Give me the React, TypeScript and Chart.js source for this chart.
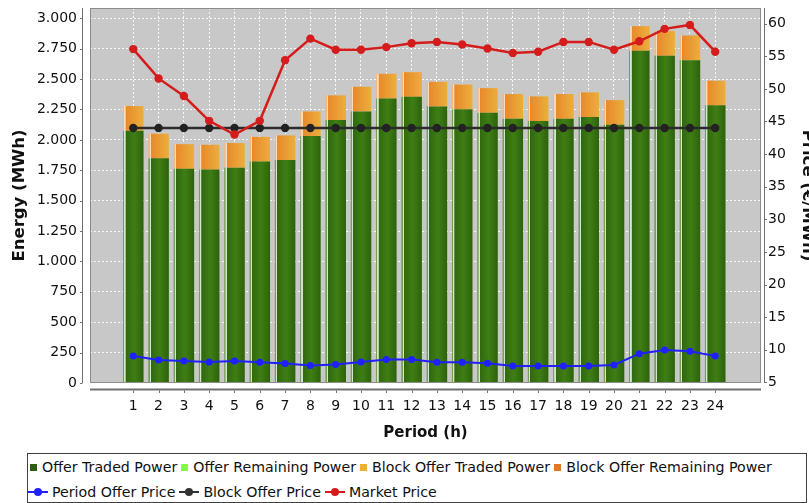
import React, { useEffect, useRef } from 'react';
import { Chart, registerables } from 'chart.js';

Chart.register(...registerables);

const periods = [1, 2, 3, 4, 5, 6, 7, 8, 9, 10, 11, 12, 13, 14, 15, 16, 17, 18, 19, 20, 21, 22, 23, 24];
const offerTradedPower = [2075, 1848, 1762, 1757, 1771, 1822, 1834, 2031, 2163, 2234, 2341, 2354, 2275, 2253, 2223, 2174, 2155, 2174, 2188, 2124, 2733, 2692, 2656, 2284];
const offerRemainingPower = [0, 0, 0, 0, 0, 0, 0, 0, 0, 0, 0, 0, 0, 0, 0, 0, 0, 0, 0, 0, 0, 0, 0, 0];
const blockOfferTradedPower = [203, 203, 203, 203, 203, 203, 203, 203, 203, 203, 203, 203, 203, 203, 203, 203, 203, 203, 203, 203, 203, 203, 203, 203];
const blockOfferRemainingPower = [0, 0, 0, 0, 0, 0, 0, 0, 0, 0, 0, 0, 0, 0, 0, 0, 0, 0, 0, 0, 0, 0, 0, 0];
const periodOfferPrice = [9.05, 8.43, 8.28, 8.13, 8.28, 8.08, 7.88, 7.57, 7.73, 8.13, 8.5, 8.5, 8.08, 8.08, 7.93, 7.5, 7.5, 7.5, 7.5, 7.66, 9.4, 9.97, 9.77, 9.05];
const blockOfferPrice = [44, 44, 44, 44, 44, 44, 44, 44, 44, 44, 44, 44, 44, 44, 44, 44, 44, 44, 44, 44, 44, 44, 44, 44];
const marketPrice = [56.1, 51.6, 48.9, 45.1, 43.0, 45.1, 54.4, 57.7, 56.0, 56.0, 56.4, 57.0, 57.2, 56.8, 56.2, 55.5, 55.7, 57.2, 57.2, 56.0, 57.3, 59.2, 59.8, 55.7];
const energyTicks = [0, 250, 500, 750, 1000, 1250, 1500, 1750, 2000, 2250, 2500, 2750, 3000];
const priceTicks = [5, 10, 15, 20, 25, 30, 35, 40, 45, 50, 55, 60];

const FONT = "'DejaVu Sans', sans-serif";
const BAR_FRACTION = 0.814;

const fmtEnergy = (v: number) => {
  const s = String(Math.round(v));
  return s.length > 3 ? s.slice(0, s.length - 3) + '.' + s.slice(-3) : s;
};

function barGradient(stops: [number, string][], fallback: string) {
  return (ctx: any) => {
    const chart = ctx.chart;
    const xs = chart.scales && chart.scales.x;
    if (!xs || ctx.type !== 'data' || !chart.chartArea) return fallback;
    const cx = xs.getPixelForValue(periods[ctx.dataIndex]);
    const step = Math.abs(xs.getPixelForValue(2) - xs.getPixelForValue(1));
    const half = (step * BAR_FRACTION) / 2;
    const g = chart.ctx.createLinearGradient(cx - half, 0, cx + half, 0);
    stops.forEach(([o, c]) => g.addColorStop(o, c));
    return g;
  };
}

const greenStops: [number, string][] = [
  [0, '#74a05a'], [0.06, '#74a05a'], [0.07, '#d6e6cc'], [0.12, '#d6e6cc'], [0.13, '#30680f'],
  [0.55, '#3f7e14'], [1, '#2d620c'],
];
const orangeStops: [number, string][] = [
  [0, '#f2b880'], [0.06, '#f2b880'], [0.07, '#fbdcb8'], [0.12, '#fbdcb8'], [0.13, '#e8892c'],
  [0.6, '#e99e34'], [1, '#ecae3c'],
];
const lightGreenStops: [number, string][] = [[0, '#80ff40'], [1, '#80ff40']];
const darkOrangeStops: [number, string][] = [[0, '#e0782a'], [1, '#e0782a']];

const zeroPadding = (s: any) => {
  s.paddingTop = 0;
  s.paddingBottom = 0;
  s.paddingLeft = 0;
  s.paddingRight = 0;
};

const decor = {
  id: 'decor',
  beforeDraw(chart: any) {
    const { ctx, chartArea: a } = chart;
    ctx.save();
    ctx.fillStyle = '#c8c8c8';
    ctx.fillRect(a.left, a.top, a.right - a.left, a.bottom - a.top);
    ctx.restore();
  },
  afterDraw(chart: any) {
    const { ctx, chartArea: a, scales } = chart;
    ctx.save();
    ctx.strokeStyle = '#8c8c8c';
    ctx.lineWidth = 1;
    ctx.strokeRect(a.left + 0.5, a.top + 0.5, a.right - a.left - 1, a.bottom - a.top - 1);

    ctx.strokeStyle = '#707070';
    const lx = a.left - 7.5;
    ctx.lineWidth = 1;
    ctx.beginPath();
    ctx.moveTo(lx, a.top);
    ctx.lineTo(lx, a.bottom);
    scales.y.ticks.forEach((t: any) => {
      const py = Math.round(scales.y.getPixelForValue(t.value)) + 0.5;
      ctx.moveTo(lx - 2.5, py);
      ctx.lineTo(lx, py);
    });
    ctx.stroke();
    const rx = a.right + 3.5;
    ctx.beginPath();
    ctx.moveTo(rx, a.top);
    ctx.lineTo(rx, a.bottom);
    scales.y1.ticks.forEach((t: any) => {
      const py = Math.round(scales.y1.getPixelForValue(t.value)) + 0.5;
      ctx.moveTo(rx, py);
      ctx.lineTo(rx + 2.5, py);
    });
    ctx.stroke();
    const by = a.bottom + 6.5;
    ctx.lineWidth = 2;
    ctx.beginPath();
    ctx.moveTo(a.left, by);
    ctx.lineTo(a.right, by);
    ctx.stroke();
    ctx.lineWidth = 1;
    ctx.beginPath();
    scales.x.ticks.forEach((t: any) => {
      const px = Math.round(scales.x.getPixelForValue(t.value)) + 0.5;
      ctx.moveTo(px, by + 1);
      ctx.lineTo(px, by + 3.5);
    });
    ctx.stroke();
    ctx.restore();
  },
};

const gridColor = 'rgba(255,255,255,0.85)';

function SquareItem({ color, label }: { color: string; label: string }) {
  return (
    <span style={{ display: 'inline-flex', alignItems: 'center', marginRight: 4 }}>
      <span style={{ display: 'inline-block', width: 7, height: 7, background: color, marginRight: 5 }} />
      {label}
    </span>
  );
}

function LineItem({ color, label }: { color: string; label: string }) {
  return (
    <span style={{ display: 'inline-flex', alignItems: 'center', marginRight: 4 }}>
      <span style={{ position: 'relative', display: 'inline-block', width: 20, height: 10, marginRight: 4 }}>
        <span style={{ position: 'absolute', left: 0, top: 4, width: 20, height: 2, background: color }} />
        <span style={{ position: 'absolute', left: 6, top: 1, width: 8, height: 8, borderRadius: '50%', background: color }} />
      </span>
      {label}
    </span>
  );
}

export default function App() {
  const canvasRef = useRef<HTMLCanvasElement | null>(null);

  useEffect(() => {
    if (!canvasRef.current) return;
    const chart = new Chart(canvasRef.current, {
      type: 'bar',
      data: {
        labels: periods,
        datasets: [
          {
            type: 'bar', label: 'Offer Traded Power', data: offerTradedPower, yAxisID: 'y', stack: 'energy',
            backgroundColor: barGradient(greenStops, '#35700f'), borderWidth: 0, order: 10,
            categoryPercentage: 1, barPercentage: BAR_FRACTION,
          },
          {
            type: 'bar', label: 'Offer Remaining Power', data: offerRemainingPower, yAxisID: 'y', stack: 'energy',
            backgroundColor: barGradient(lightGreenStops, '#80ff40'), borderWidth: 0, order: 11,
            categoryPercentage: 1, barPercentage: BAR_FRACTION,
          },
          {
            type: 'bar', label: 'Block Offer Traded Power', data: blockOfferTradedPower, yAxisID: 'y', stack: 'energy',
            backgroundColor: barGradient(orangeStops, '#e89a32'), borderWidth: 0, order: 12,
            categoryPercentage: 1, barPercentage: BAR_FRACTION,
          },
          {
            type: 'bar', label: 'Block Offer Remaining Power', data: blockOfferRemainingPower, yAxisID: 'y', stack: 'energy',
            backgroundColor: barGradient(darkOrangeStops, '#e0782a'), borderWidth: 0, order: 13,
            categoryPercentage: 1, barPercentage: BAR_FRACTION,
          },
          {
            type: 'line', label: 'Period Offer Price', data: periodOfferPrice, yAxisID: 'y1',
            borderColor: '#2020ff', backgroundColor: '#2020ff', pointBackgroundColor: '#2020ff',
            borderWidth: 2, pointRadius: 3.5, pointBorderWidth: 0, tension: 0, order: 2,
          },
          {
            type: 'line', label: 'Block Offer Price', data: blockOfferPrice, yAxisID: 'y1',
            borderColor: '#2c2c2c', backgroundColor: '#2c2c2c', pointBackgroundColor: '#222222',
            borderWidth: 2.5, pointRadius: 4.2, pointBorderWidth: 0, tension: 0, order: 1,
          },
          {
            type: 'line', label: 'Market Price', data: marketPrice, yAxisID: 'y1',
            borderColor: '#d41c1c', backgroundColor: '#d41c1c', pointBackgroundColor: '#d41c1c',
            borderWidth: 2.5, pointRadius: 4.2, pointBorderWidth: 0, tension: 0, order: 0,
          },
        ] as any,
      },
      plugins: [decor],
      options: {
        responsive: false,
        animation: false,
        layout: { padding: { top: 8, left: 0, right: 0, bottom: 0 }, autoPadding: false },
        plugins: { legend: { display: false }, tooltip: { enabled: false } },
        scales: {
          x: {
            type: 'linear',
            min: -0.71,
            max: 25.81,
            offset: false,
            stacked: true,
            afterBuildTicks: (s: any) => { s.ticks = periods.map((v) => ({ value: v })); },
            afterFit: (s: any) => { s.height = 67; zeroPadding(s); },
            ticks: {
              autoSkip: false, maxRotation: 0, padding: 15, color: '#111',
              font: { family: FONT, size: 14 },
              callback: (v: any) => String(v),
            },
            grid: { color: gridColor, lineWidth: 1, drawTicks: false, offset: false },
            border: { display: false, dash: [2, 2] },
            title: {
              display: true, text: 'Period (h)', color: '#111',
              font: { family: FONT, size: 15, weight: 'bold' }, padding: { top: 0, bottom: 8 },
            },
          },
          y: {
            type: 'linear',
            position: 'left',
            min: 0,
            max: 3085,
            stacked: true,
            afterBuildTicks: (s: any) => { s.ticks = energyTicks.map((v) => ({ value: v })); },
            afterFit: (s: any) => { s.width = 90; zeroPadding(s); },
            ticks: { padding: 13, color: '#111', font: { family: FONT, size: 14 }, callback: (v: any) => fmtEnergy(Number(v)) },
            grid: { color: gridColor, lineWidth: 1, drawTicks: false },
            border: { display: false, dash: [2, 2] },
            title: {
              display: true, text: 'Energy (MWh)', color: '#111',
              font: { family: FONT, size: 16.5, weight: 'bold' }, padding: { top: 10, bottom: 0 },
            },
          },
          y1: {
            type: 'linear',
            position: 'right',
            min: 4.9,
            max: 62.4,
            afterBuildTicks: (s: any) => { s.ticks = priceTicks.map((v) => ({ value: v })); },
            afterFit: (s: any) => { s.width = 56; zeroPadding(s); },
            ticks: { padding: 7, color: '#111', font: { family: FONT, size: 14 } },
            grid: { display: false, drawTicks: false },
            border: { display: false },
            title: {
              display: true, text: 'Price (€/MWh)', color: '#111',
              font: { family: FONT, size: 16.5, weight: 'bold' }, padding: { top: 0, bottom: 0 },
            },
          },
        },
      } as any,
    });
    return () => chart.destroy();
  }, []);

  return (
    <div style={{ position: 'fixed', left: 0, top: 0, width: 809, height: 503, overflow: 'hidden', background: '#fff' }}>
      <canvas ref={canvasRef} width={817} height={450} style={{ position: 'absolute', left: 0, top: 0, width: 817, height: 450 }} />
      <div
        style={{
          position: 'absolute', left: 27, top: 453, width: 778, height: 48, border: '1px solid #404040',
          fontFamily: FONT, fontSize: 14.2, color: '#111', lineHeight: '16px', whiteSpace: 'nowrap',
        }}
      >
        <div style={{ position: 'absolute', left: 2, top: 5, display: 'flex', alignItems: 'center' }}>
          <SquareItem color="#2e5e10" label="Offer Traded Power" />
          <SquareItem color="#80ff40" label="Offer Remaining Power" />
          <SquareItem color="#ecb02e" label="Block Offer Traded Power" />
          <SquareItem color="#e0782a" label="Block Offer Remaining Power" />
        </div>
        <div style={{ position: 'absolute', left: 0, top: 30, display: 'flex', alignItems: 'center' }}>
          <LineItem color="#2020ff" label="Period Offer Price" />
          <LineItem color="#333333" label="Block Offer Price" />
          <LineItem color="#d41c1c" label="Market Price" />
        </div>
      </div>
    </div>
  );
}
